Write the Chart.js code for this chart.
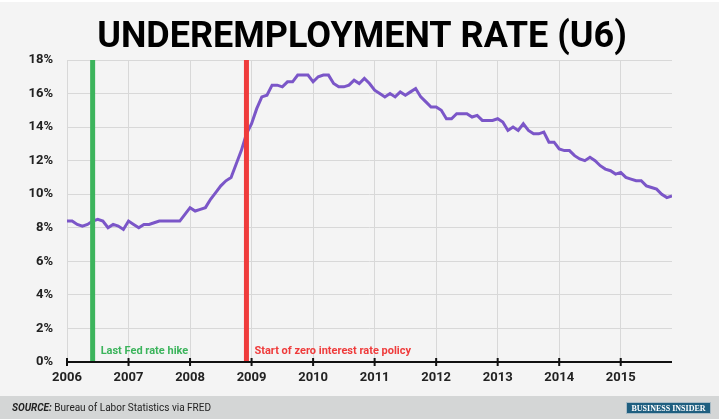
<!DOCTYPE html>
<html>
<head>
<meta charset="utf-8">
<script src="https://cdn.jsdelivr.net/npm/chart.js@4"></script>
<style>
  html, body { margin: 0; padding: 0; background: #ffffff; }
  #wrap { width: 721px; height: 419px; position: relative; }
</style>
</head>
<body>
<div id="wrap"><canvas id="u6"></canvas></div>
<script>
// Data //

// monthly U6 rate, Jan 2006 - Nov 2015
const startYear = 2006;
const u6 = [
  8.4, 8.4, 8.2, 8.1, 8.2, 8.4, 8.5, 8.4, 8.0, 8.2, 8.1, 7.9,      // 2006
  8.4, 8.2, 8.0, 8.2, 8.2, 8.3, 8.4, 8.4, 8.4, 8.4, 8.4, 8.8,      // 2007
  9.2, 9.0, 9.1, 9.2, 9.7, 10.1, 10.5, 10.8, 11.0, 11.8, 12.6, 13.6, // 2008
  14.2, 15.1, 15.8, 15.9, 16.5, 16.5, 16.4, 16.7, 16.7, 17.1, 17.1, 17.1, // 2009
  16.7, 17.0, 17.1, 17.1, 16.6, 16.4, 16.4, 16.5, 16.8, 16.6, 16.9, 16.6, // 2010
  16.2, 16.0, 15.8, 16.0, 15.8, 16.1, 15.9, 16.1, 16.3, 15.8, 15.5, 15.2, // 2011
  15.2, 15.0, 14.5, 14.5, 14.8, 14.8, 14.8, 14.6, 14.7, 14.4, 14.4, 14.4, // 2012
  14.5, 14.3, 13.8, 14.0, 13.8, 14.2, 13.8, 13.6, 13.6, 13.7, 13.1, 13.1, // 2013
  12.7, 12.6, 12.6, 12.3, 12.1, 12.0, 12.2, 12.0, 11.7, 11.5, 11.4, 11.2, // 2014
  11.3, 11.0, 10.9, 10.8, 10.8, 10.5, 10.4, 10.3, 10.0, 9.8, 9.9         // 2015
];
const yearTicks = [2006, 2007, 2008, 2009, 2010, 2011, 2012, 2013, 2014, 2015];
const yTicks = [0, 2, 4, 6, 8, 10, 12, 14, 16, 18];

// event markers (year + month/12)
const eventDates = [2006 + 5 / 12, 2008 + 11 / 12];
const eventLabels = ['Last Fed rate hike', 'Start of zero interest rate policy'];
const eventColors = ['#3cb45c', '#ef3b3b'];

const titleText = 'UNDEREMPLOYMENT RATE (U6)';

// Build points
const points = u6.map((v, i) => ({ x: startYear + i / 12, y: v }));

// Plugin gambar latar, judul, garis event, footer
const decor = {
  id: 'decor',
  beforeDraw(chart) {
    const ctx = chart.ctx;
    ctx.save();
    ctx.fillStyle = '#ffffff';
    ctx.fillRect(0, 0, chart.width, chart.height);
    ctx.fillStyle = '#f4f4f4';
    ctx.fillRect(0, 2, chart.width - 2, chart.height - 2);
    // footer bar
    ctx.fillStyle = '#d4d6d6';
    ctx.fillRect(0, 396, chart.width - 2, chart.height - 396);
    // title
    ctx.fillStyle = '#000';
    ctx.font = 'bold 36px Roboto';
    ctx.textAlign = 'center';
    ctx.textBaseline = 'middle';
    ctx.fillText(titleText, 362, 38);
    ctx.restore();
  },
  afterDatasetsDraw(chart) {
    const ctx = chart.ctx;
    const xs = chart.scales.x;
    const area = chart.chartArea;
    ctx.save();
    eventDates.forEach((d, i) => {
      const px = xs.getPixelForValue(d);
      ctx.strokeStyle = eventColors[i];
      ctx.lineWidth = 5;
      ctx.beginPath();
      ctx.moveTo(px, area.top);
      ctx.lineTo(px, area.bottom);
      ctx.stroke();
      ctx.fillStyle = eventColors[i];
      ctx.font = 'bold 11px Roboto';
      ctx.textAlign = 'left';
      ctx.textBaseline = 'middle';
      ctx.fillText(eventLabels[i], px + 8, area.bottom - 11);
    });
    // x axis + tick marks
    ctx.strokeStyle = '#111';
    ctx.lineWidth = 2;
    ctx.beginPath();
    ctx.moveTo(area.left, area.bottom);
    ctx.lineTo(area.right, area.bottom);
    ctx.stroke();
    yearTicks.forEach(y => {
      const px = xs.getPixelForValue(y);
      ctx.beginPath();
      ctx.moveTo(px, area.bottom - 4);
      ctx.lineTo(px, area.bottom + 4);
      ctx.stroke();
    });

    // footer source text
    ctx.fillStyle = '#222';
    ctx.textBaseline = 'middle';
    ctx.textAlign = 'left';
    ctx.font = 'italic bold 10px Roboto';
    ctx.fillText('SOURCE:', 12, 408);
    const w = ctx.measureText('SOURCE:').width;
    ctx.font = '10px Roboto';
    ctx.fillText(' Bureau of Labor Statistics via FRED', 12 + w, 408);

    // Business Insider logo
    ctx.fillStyle = '#1f5f80';
    ctx.fillRect(627, 403, 83, 10);
    ctx.strokeStyle = '#a9bcc6';
    ctx.lineWidth = 1;
    ctx.strokeRect(626.5, 402.5, 84, 11);
    ctx.fillStyle = '#fff';
    ctx.font = 'bold 8px "Liberation Serif"';
    ctx.textAlign = 'center';
    ctx.fillText('BUSINESS INSIDER', 668.5, 408.5, 76);
    ctx.restore();
  }
};

document.addEventListener('DOMContentLoaded', () => {
  const canvas = document.getElementById('u6');
  const ctx = canvas.getContext('2d');

  new Chart(ctx, {
    type: 'line',
    data: {
      datasets: [{
        data: points,
        borderColor: '#7b56c8',
        borderWidth: 3,
        pointRadius: 0,
        tension: 0,
        fill: false
      }]
    },
    options: {
      responsive: true,
      maintainAspectRatio: false,
      animation: false,
      layout: { padding: { left: 0, right: 49, top: 60, bottom: 0 } },
      plugins: {
        legend: { display: false },
        tooltip: { enabled: false },
        title: { display: false }
      },
      scales: {
        x: {
          type: 'linear',
          min: startYear,
          max: startYear + (u6.length - 1) / 12,
          afterBuildTicks: (scale) => { scale.ticks = yearTicks.map(v => ({ value: v })); },
          afterFit: (scale) => { scale.height = 57; },
          grid: { color: '#d8d8d8', lineWidth: 1, drawTicks: false },
          border: { display: false },
          ticks: {
            padding: 8,
            color: '#222',
            font: { family: 'Roboto', weight: 'bold', size: 13 },
            callback: (v) => String(v)
          }
        },
        y: {
          min: 0,
          max: 18,
          afterBuildTicks: (scale) => { scale.ticks = yTicks.map(v => ({ value: v })); },
          afterFit: (scale) => { scale.width = 67; },
          grid: { color: '#d8d8d8', lineWidth: 1, drawTicks: false },
          border: { display: false },
          ticks: {
            padding: 14,
            color: '#222',
            font: { family: 'Roboto', weight: 'bold', size: 13 },
            callback: (v) => v + '%'
          }
        }
      }
    },
    plugins: [decor]
  });
});
</script>
</body>
</html>
